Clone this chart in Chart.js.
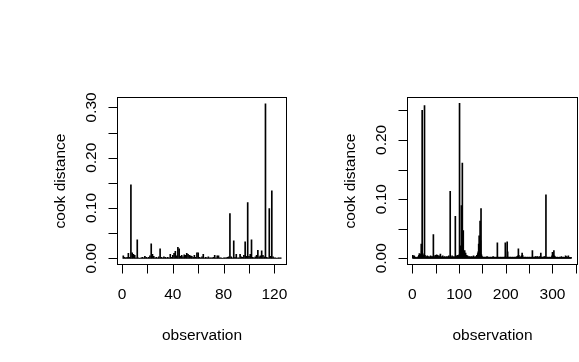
<!DOCTYPE html>
<html>
<head>
<meta charset="utf-8">
<script src="https://cdn.jsdelivr.net/npm/chart.js@4"></script>
<style>
  html, body { margin: 0; padding: 0; background: #fff; }
  #wrap { position: relative; width: 579px; height: 362px; overflow: hidden; }
  canvas { position: absolute; top: 0; }
</style>
</head>
<body>
<div id="wrap">
  <canvas id="cookA" width="290" height="362" style="left:0"></canvas>
  <canvas id="cookB" width="289" height="362" style="left:290px"></canvas>
</div>
<script>
/* ── data: cook's distance per observation ── */

// left panel, 125 observations
const cookA = [
  0.005,0.002,0.001,0.002,0.010,0.002,0.146,0.011,0.008,0.006,
  0.001,0.037,0.001,0.000,0.001,0.002,0.001,0.004,0.002,0.001,
  0.002,0.005,0.029,0.008,0.004,0.001,0.002,0.001,0.003,0.019,
  0.002,0.001,0.003,0.002,0.001,0.002,0.001,0.008,0.002,0.006,
  0.010,0.014,0.005,0.022,0.019,0.004,0.006,0.003,0.007,0.006,
  0.010,0.008,0.006,0.005,0.004,0.002,0.006,0.002,0.011,0.011,
  0.002,0.001,0.003,0.008,0.001,0.002,0.001,0.003,0.001,0.001,
  0.001,0.002,0.006,0.001,0.005,0.005,0.001,0.001,0.000,0.001,
  0.001,0.001,0.002,0.003,0.089,0.003,0.001,0.035,0.002,0.008,
  0.001,0.001,0.008,0.003,0.002,0.006,0.033,0.004,0.111,0.004,
  0.008,0.037,0.002,0.001,0.003,0.006,0.016,0.003,0.005,0.015,
  0.006,0.003,0.307,0.002,0.001,0.099,0.004,0.134,0.003,0.001,
  0.001,0.000,0.001,0.001,0.001
];

// right panel, 340 observations
const cookB = [
  0.005,0.003,0.002,0.004,0.001,0.001,0.002,0.001,0.000,0.001,0.001,0.002,0.003,0.005,0.008,0.006,0.004,0.007,0.024,0.012,
  0.250,0.008,0.006,0.004,0.002,0.258,0.005,0.002,0.001,0.003,0.002,0.004,0.002,0.001,0.003,0.002,0.001,0.002,0.004,0.003,
  0.002,0.001,0.003,0.002,0.040,0.002,0.001,0.003,0.005,0.002,0.004,0.006,0.003,0.005,0.004,0.002,0.003,0.001,0.004,0.007,
  0.003,0.002,0.001,0.002,0.004,0.001,0.002,0.001,0.003,0.002,0.001,0.002,0.001,0.003,0.002,0.001,0.002,0.004,0.002,0.001,
  0.113,0.002,0.001,0.002,0.004,0.001,0.002,0.001,0.003,0.001,0.002,0.071,0.002,0.001,0.004,0.003,0.005,0.004,0.003,0.006,
  0.262,0.005,0.021,0.010,0.089,0.008,0.161,0.014,0.047,0.012,0.008,0.013,0.006,0.009,0.004,0.005,0.003,0.004,0.002,0.003,
  0.001,0.002,0.003,0.001,0.002,0.001,0.003,0.002,0.001,0.002,0.004,0.001,0.002,0.001,0.003,0.001,0.002,0.005,0.003,0.008,
  0.011,0.024,0.038,0.018,0.063,0.030,0.084,0.006,0.003,0.002,0.001,0.002,0.001,0.001,0.002,0.001,0.001,0.002,0.001,0.003,
  0.001,0.001,0.002,0.001,0.001,0.001,0.002,0.001,0.001,0.001,0.002,0.001,0.003,0.001,0.001,0.002,0.001,0.001,0.001,0.002,
  0.001,0.026,0.001,0.002,0.001,0.001,0.001,0.002,0.001,0.001,0.001,0.002,0.001,0.001,0.001,0.002,0.001,0.002,0.026,0.001,
  0.002,0.001,0.028,0.011,0.002,0.001,0.001,0.002,0.001,0.001,0.002,0.001,0.001,0.001,0.002,0.001,0.001,0.001,0.002,0.001,
  0.001,0.002,0.001,0.003,0.002,0.004,0.016,0.005,0.002,0.001,0.002,0.001,0.003,0.004,0.009,0.005,0.002,0.001,0.001,0.002,
  0.001,0.001,0.002,0.001,0.001,0.001,0.002,0.001,0.001,0.001,0.002,0.001,0.001,0.001,0.002,0.001,0.013,0.002,0.001,0.001,
  0.002,0.001,0.002,0.003,0.002,0.001,0.002,0.003,0.002,0.001,0.001,0.002,0.003,0.002,0.009,0.002,0.001,0.001,0.002,0.001,
  0.002,0.002,0.003,0.002,0.002,0.107,0.001,0.001,0.002,0.001,0.001,0.001,0.002,0.001,0.001,0.001,0.002,0.001,0.004,0.010,
  0.008,0.003,0.013,0.004,0.003,0.002,0.001,0.001,0.001,0.002,0.001,0.001,0.001,0.001,0.002,0.001,0.001,0.001,0.003,0.001,
  0.001,0.001,0.002,0.001,0.001,0.001,0.001,0.004,0.002,0.003,0.001,0.001,0.002,0.004,0.001,0.001,0.001,0.001,0.001,0.001
];

// ticks and labels
const xTicksA  = [0, 20, 40, 60, 80, 100, 120];
const xLabelsA = [0, 40, 80, 120];
const yTicksA  = [0, 0.05, 0.10, 0.15, 0.20, 0.25, 0.30];
const yLabelsA = ['0.00', '0.10', '0.20', '0.30'];

const xTicksB  = [0, 50, 100, 150, 200, 250, 300, 350];
const xLabelsB = [0, 100, 200, 300];
const yTicksB  = [0, 0.05, 0.10, 0.15, 0.20, 0.25];
const yLabelsB = ['0.00', '0.10', '0.20'];

const xTitle = 'observation';
const yTitle = 'cook distance';

/* ── R style axes: box, outward ticks, rotated y labels ── */
const FONT = '15.5px "Liberation Sans", Arial, sans-serif';

const rAxes = {
  id: 'rAxes',
  afterDraw(chart, args, o) {
    const { ctx, chartArea: a, scales: { x, y } } = chart;
    const L = Math.round(a.left) + 0.5, R = Math.round(a.right) - 0.5;
    const T = Math.round(a.top) + 0.5,  B = Math.round(a.bottom) - 0.5;
    ctx.save();
    ctx.strokeStyle = '#000';
    ctx.lineWidth = 1;
    ctx.strokeRect(L, T, R - L, B - T);

    ctx.beginPath();
    o.xTicks.forEach(v => {
      const px = Math.round(x.getPixelForValue(v)) + 0.5;
      ctx.moveTo(px, B); ctx.lineTo(px, B + 9);
    });
    o.yTicks.forEach(v => {
      const py = Math.round(y.getPixelForValue(v)) + 0.5;
      ctx.moveTo(L, py); ctx.lineTo(L - 9, py);
    });
    ctx.stroke();

    ctx.fillStyle = '#000';
    ctx.font = FONT;
    ctx.textAlign = 'center';
    ctx.textBaseline = 'alphabetic';
    o.xLabels.forEach(v => ctx.fillText(String(v), x.getPixelForValue(v), B + 34));
    ctx.fillText(xTitle, (L + R) / 2, B + 75);

    o.yLabels.forEach(s => {
      ctx.save();
      ctx.translate(L - 21.5, y.getPixelForValue(parseFloat(s)));
      ctx.rotate(-Math.PI / 2);
      ctx.fillText(s, 0, 0);
      ctx.restore();
    });
    ctx.save();
    ctx.translate(L - 53, (T + B) / 2);
    ctx.rotate(-Math.PI / 2);
    ctx.fillText(yTitle, 0, 0);
    ctx.restore();
    ctx.restore();
  }
};

function cookChart(id, vals, xr, yr, pad, axes) {
  const pts = vals.map((v, i) => ({ x: i + 1, y: v }));
  return new Chart(document.getElementById(id), {
    type: 'bar',
    data: { datasets: [{ data: pts, backgroundColor: '#000', borderWidth: 0, barThickness: 1 }] },
    options: {
      responsive: false,
      animation: false,
      layout: { padding: pad },
      plugins: { legend: { display: false }, tooltip: { enabled: false }, rAxes: axes },
      scales: {
        x: { type: 'linear', min: xr[0], max: xr[1], offset: false, display: false },
        y: { type: 'linear', min: yr[0], max: yr[1], display: false }
      }
    },
    plugins: [rAxes]
  });
}

// R pads the data range by 4% on each side
cookChart('cookA', cookA, [-3.96, 129.96], [-0.0123, 0.3208],
  { left: 117, right: 3, top: 97, bottom: 97.5 },
  { xTicks: xTicksA, xLabels: xLabelsA, yTicks: yTicksA, yLabels: yLabelsA });

cookChart('cookB', cookB, [-12.56, 353.56], [-0.0105, 0.2725],
  { left: 116.5, right: 1.5, top: 97, bottom: 97.5 },
  { xTicks: xTicksB, xLabels: xLabelsB, yTicks: yTicksB, yLabels: yLabelsB });
</script>
</body>
</html>
